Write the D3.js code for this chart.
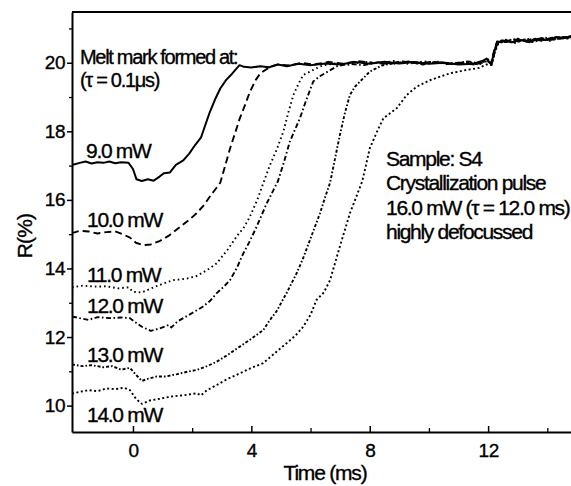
<!DOCTYPE html>
<html><head><meta charset="utf-8">
<script src="https://cdn.jsdelivr.net/npm/d3@7"></script>
<style>body{margin:0;background:#fff}svg{display:block}text{font-family:"Liberation Sans",Arial,sans-serif;fill:#000;stroke:#000;stroke-width:0.35px}</style>
</head><body><svg id="c" width="571" height="486"></svg>
<script>
// ---- data (time in ms, reflectivity R in %) ----
const xTicks = [0, 4, 8, 12];
const xMinor = [2, 6, 10, 14];
const yTicks = [10, 12, 14, 16, 18, 20];
const yMinor = [11, 13, 15, 17, 19, 21];
const powers = ["9.0 mW", "10.0 mW", "11.0 mW", "12.0 mW", "13.0 mW", "14.0 mW"];

const s9 = [[-2.06,17.02],[-1.8,17.08],[-1.6,17.12],[-1.4,17.06],[-1.2,17.1],[-1.0,17.08],[-0.8,17.12],[-0.6,17.07],[-0.4,17.1],[-0.15,17.08],[0.0,16.9],[0.12,16.6],[0.3,16.55],[0.5,16.6],[0.7,16.56],[0.9,16.68],[1.05,16.78],[1.25,16.8],[1.45,17.02],[1.7,17.15],[1.9,17.35],[2.1,17.6],[2.3,17.82],[2.45,18.2],[2.6,18.57],[2.8,18.98],[2.95,19.25],[3.15,19.5],[3.35,19.68],[3.6,19.93],[3.75,19.88],[4.0,19.86],[4.3,19.9],[4.6,19.87],[4.9,19.95],[5.2,19.9],[5.6,19.97],[6.0,19.93],[6.5,19.98],[7.0,19.95],[7.5,20.02],[8.0,19.97],[8.5,20.03],[9.0,19.98],[9.5,20.02],[10.0,19.97],[10.5,20.0],[11.0,19.95],[11.5,19.97],[11.8,20.05],[11.95,20.12],[12.1,19.95],[12.2,20.3],[12.3,20.58],[12.5,20.65],[12.8,20.6],[13.1,20.66],[13.4,20.6],[13.7,20.7],[14.0,20.66],[14.3,20.75],[14.6,20.72],[14.8,20.78]];
const s10 = [[-2.06,15.03],[-1.8,15.1],[-1.5,15.08],[-1.2,15.02],[-0.9,15.06],[-0.6,15.08],[-0.35,15.0],[-0.1,14.9],[0.1,14.75],[0.35,14.68],[0.6,14.7],[0.9,14.8],[1.2,14.95],[1.6,15.22],[1.9,15.42],[2.15,15.61],[2.4,15.85],[2.6,16.1],[2.95,16.5],[3.1,16.95],[3.28,17.5],[3.45,17.95],[3.61,18.38],[3.8,18.8],[3.95,19.15],[4.15,19.5],[4.3,19.69],[4.63,19.88],[4.9,19.95],[5.3,19.92],[5.7,20.0],[6.1,19.95],[6.6,20.02],[7.1,19.97],[7.6,20.05],[8.1,20.0],[8.6,19.97],[9.1,20.04],[9.6,19.98],[10.1,20.03],[10.6,19.96],[11.1,20.0],[11.6,19.94],[11.9,20.08],[12.1,19.98],[12.2,20.35],[12.3,20.62],[12.6,20.6],[12.9,20.68],[13.2,20.62],[13.5,20.7],[13.8,20.64],[14.1,20.72],[14.4,20.7],[14.8,20.75]];
const s11 = [[-2.06,13.45],[-1.7,13.5],[-1.3,13.47],[-0.9,13.48],[-0.5,13.42],[-0.15,13.45],[0.0,13.32],[0.3,13.3],[0.7,13.45],[1.0,13.55],[1.36,13.66],[1.8,13.7],[2.15,13.78],[2.5,13.95],[2.83,14.15],[3.2,14.55],[3.5,14.93],[3.75,15.2],[3.95,15.51],[4.2,16.0],[4.4,16.48],[4.63,17.02],[4.85,17.45],[5.08,17.99],[5.25,18.55],[5.42,19.06],[5.6,19.4],[5.75,19.64],[6.09,19.79],[6.4,19.92],[6.8,19.98],[7.3,19.94],[7.8,20.03],[8.3,19.98],[8.8,20.05],[9.3,19.97],[9.8,20.04],[10.3,20.0],[10.8,19.97],[11.3,20.02],[11.7,19.96],[12.0,20.1],[12.12,19.97],[12.22,20.4],[12.35,20.63],[12.7,20.68],[13.0,20.62],[13.3,20.7],[13.6,20.66],[13.9,20.74],[14.2,20.68],[14.5,20.76],[14.8,20.72]];
const s12 = [[-2.06,12.6],[-1.8,12.55],[-1.5,12.5],[-1.2,12.58],[-0.8,12.55],[-0.4,12.57],[-0.1,12.55],[0.05,12.45],[0.3,12.3],[0.6,12.18],[0.9,12.25],[1.2,12.35],[1.3,12.28],[1.5,12.45],[1.7,12.55],[2.0,12.7],[2.37,12.89],[2.6,13.05],[2.83,13.28],[3.05,13.45],[3.28,13.66],[3.5,14.0],[3.73,14.44],[3.95,14.8],[4.18,15.22],[4.52,15.9],[4.9,16.55],[5.1,17.1],[5.3,17.7],[5.64,18.38],[5.85,18.9],[6.09,19.45],[6.3,19.6],[6.54,19.72],[6.9,19.9],[7.3,19.97],[7.8,19.93],[8.3,20.02],[8.8,19.97],[9.3,20.03],[9.8,19.95],[10.3,20.02],[10.8,19.98],[11.3,20.04],[11.7,19.98],[12.0,20.05],[12.12,19.95],[12.22,20.3],[12.35,20.6],[12.6,20.66],[12.9,20.6],[13.2,20.68],[13.5,20.64],[13.8,20.72],[14.1,20.66],[14.4,20.74],[14.8,20.76]];
const s13 = [[-2.06,11.2],[-1.7,11.15],[-1.4,11.18],[-1.0,11.12],[-0.7,11.15],[-0.4,11.05],[-0.1,11.1],[0.1,10.9],[0.3,10.72],[0.5,10.78],[0.8,10.85],[1.1,10.85],[1.5,10.92],[1.8,10.98],[2.15,11.04],[2.5,11.15],[2.83,11.28],[3.2,11.48],[3.61,11.72],[4.0,11.95],[4.4,12.2],[4.63,12.5],[4.85,12.75],[5.2,13.3],[5.53,13.86],[5.75,14.3],[5.98,14.83],[6.32,15.61],[6.5,16.1],[6.66,16.5],[6.99,17.89],[7.15,18.5],[7.33,19.06],[7.5,19.3],[7.67,19.45],[8.0,19.74],[8.4,19.92],[8.8,19.98],[9.3,20.04],[9.8,19.97],[10.3,20.03],[10.8,19.96],[11.3,20.0],[11.7,19.95],[11.95,20.08],[12.12,19.98],[12.22,20.38],[12.35,20.6],[12.7,20.64],[13.0,20.7],[13.3,20.62],[13.6,20.7],[13.9,20.66],[14.2,20.74],[14.5,20.7],[14.8,20.77]];
const s14 = [[-2.06,10.35],[-1.8,10.4],[-1.5,10.45],[-1.2,10.42],[-0.9,10.5],[-0.6,10.48],[-0.3,10.52],[-0.1,10.45],[0.1,10.2],[0.3,10.05],[0.57,10.15],[0.9,10.2],[1.25,10.26],[1.7,10.3],[2.15,10.36],[2.3,10.3],[2.5,10.45],[2.83,10.6],[3.2,10.78],[3.61,10.94],[4.0,11.1],[4.4,11.24],[4.85,11.57],[5.19,11.82],[5.5,12.05],[5.75,12.3],[6.0,12.65],[6.2,13.08],[6.45,13.3],[6.66,13.66],[6.99,14.64],[7.33,15.61],[7.55,16.1],[7.75,16.55],[8.0,17.5],[8.25,18.0],[8.46,18.38],[8.91,18.67],[9.25,19.06],[9.58,19.3],[10.03,19.49],[10.4,19.6],[10.71,19.69],[11.27,19.79],[11.7,19.85],[11.95,19.95],[12.12,19.93],[12.22,20.3],[12.35,20.58],[12.6,20.62],[12.9,20.58],[13.2,20.66],[13.5,20.6],[13.8,20.68],[14.1,20.64],[14.4,20.72],[14.8,20.7]];
const series = [s9, s10, s11, s12, s13, s14];
const dashes = ["none", "7,4", "1.6,3", "5,2.5,1.6,2.5", "3,2,1.6,2", "2,2.5"];

// ---- layout ----
const svg = d3.select("#c");
const L = 72, R = 571, T = 12, B = 432;
const x = d3.scaleLinear().domain([-2.06, 14.8]).range([L, R]);
const y = d3.scaleLinear().domain([9.23, 21.48]).range([B, T]);

svg.append("clipPath").attr("id", "clip").append("rect")
  .attr("x", L).attr("y", T).attr("width", R - L).attr("height", B - T);

const line = d3.line().x(d => x(d[0])).y(d => y(d[1]));
const g = svg.append("g").attr("clip-path", "url(#clip)");
series.forEach((s, i) => {
  g.append("path").datum(s).attr("d", line).attr("fill", "none")
    .attr("stroke", "#000").attr("stroke-width", i === 0 ? 2 : 1.9)
    .attr("stroke-dasharray", dashes[i]).attr("stroke-linejoin", "round");
});

// axes
const fs = "19px";
const xa = svg.append("g").attr("transform", `translate(0,${B})`)
  .call(d3.axisBottom(x).tickValues(xTicks).tickSizeInner(-6).tickSizeOuter(0).tickPadding(12).tickFormat(d3.format("d")));
xa.select(".domain").attr("stroke-width", 2);
xa.selectAll(".tick line").attr("stroke-width", 1.5);
xa.selectAll("text").style("font-size", fs).style("letter-spacing", "-0.5px");
const xm = svg.append("g").attr("transform", `translate(0,${B})`)
  .call(d3.axisBottom(x).tickValues(xMinor).tickSizeInner(-4).tickSizeOuter(0).tickFormat(""));
xm.select(".domain").remove();
xm.selectAll(".tick line").attr("stroke-width", 1.3);

const ya = svg.append("g").attr("transform", `translate(${L},0)`)
  .call(d3.axisLeft(y).tickValues(yTicks).tickSizeInner(5).tickSizeOuter(0).tickPadding(2).tickFormat(d3.format("d")));
ya.select(".domain").attr("stroke-width", 2);
ya.selectAll(".tick line").attr("stroke-width", 1.5);
ya.selectAll("text").style("font-size", fs).style("letter-spacing", "-0.5px");
const ym = svg.append("g").attr("transform", `translate(${L},0)`)
  .call(d3.axisLeft(y).tickValues(yMinor).tickSizeInner(3).tickSizeOuter(0).tickFormat(""));
ym.select(".domain").remove();
ym.selectAll(".tick line").attr("stroke-width", 1.3);

// top border
svg.append("line").attr("x1", L).attr("x2", R).attr("y1", T).attr("y2", T)
  .attr("stroke", "#000").attr("stroke-width", 2);

// axis titles
svg.append("text").attr("x", 325).attr("y", 480).attr("text-anchor", "middle")
  .style("font-size", "21px").style("letter-spacing", "-1.2px").text("Time (ms)");
svg.append("text").attr("transform", "translate(32,236) rotate(-90)").attr("text-anchor", "middle")
  .style("font-size", "21px").style("letter-spacing", "-0.8px").text("R(%)");

// annotations
const ann = (tx, ty, s, size) => svg.append("text").attr("x", tx).attr("y", ty)
  .style("font-size", (size || 21) + "px").style("letter-spacing", "-1.3px").text(s);
ann(80, 64, "Melt mark formed at:", 20);
ann(80, 87, "(τ = 0.1μs)", 20);
const labelPix = [158, 227, 282, 313, 362, 422];
powers.forEach((p, i) => ann(i === 0 ? 86 : 87, labelPix[i], p));
ann(386, 166, "Sample: S4");
ann(386, 190, "Crystallization pulse");
ann(386, 215, "16.0 mW (τ = 12.0 ms)");
ann(386, 239, "highly defocussed");
</script></body></html>
